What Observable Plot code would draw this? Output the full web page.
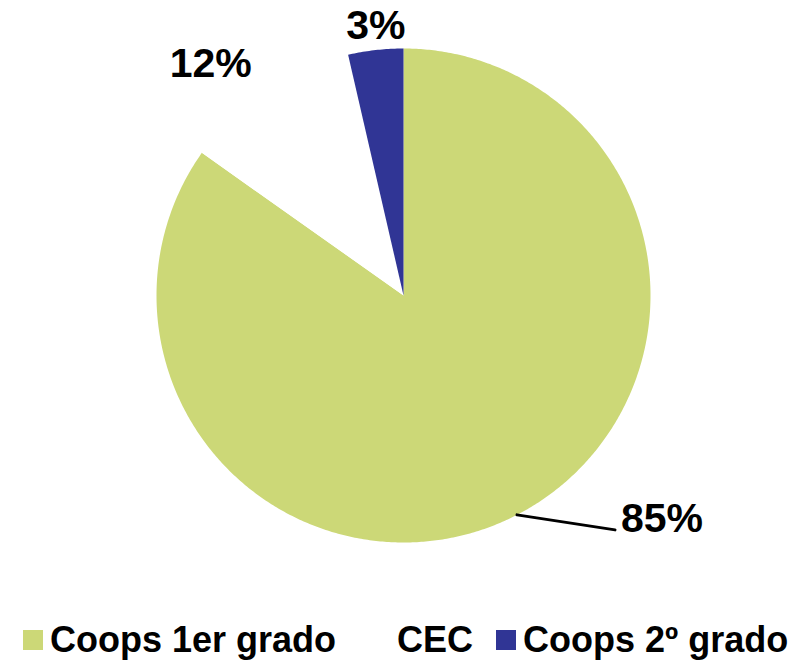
<!DOCTYPE html>
<html><head><meta charset="utf-8">
<script src="https://cdn.jsdelivr.net/npm/d3@7"></script>
<script src="https://cdn.jsdelivr.net/npm/@observablehq/plot@0.6"></script>
<style>
body{margin:0;background:#fff;font-family:"Liberation Sans",Arial,sans-serif;width:809px;height:662px;overflow:hidden}
#legend{display:flex;align-items:center;height:44px;padding-top:18px;padding-left:23px;font-weight:bold;font-size:36px;color:#000;white-space:nowrap}
.item{display:flex;align-items:center}
.sw{width:20px;height:20px;margin-right:7px;flex:none}
</style>
</head><body>
<div id="chart"></div>
<div id="legend"></div>
<script>
const categories = ["Coops 1er grado", "CEC", "Coops 2º grado"];
const values = [84.8, 11.6, 3.6];
const labels = ["85%", "12%", "3%"];
const colors = ["#ccd877", "#ffffff", "#303595"];

// layout
const W = 809, H = 600, CX = 403, CY = 295, R = 247;
const labelPlace = [
  {r: 1.0, leader: [98, 15], dx: 6, dy: 2, anchor: "start", lineAnchor: "bottom"},
  {r: 1.22, dx: -25, dy: 19, anchor: "middle", lineAnchor: "middle"},
  {r: 1.10, dx: 3, dy: 0, anchor: "middle", lineAnchor: "middle"}
];

const arcs = d3.pie().sort(null).value(d => d)(values);
const pt = (a, r) => ({x: r * Math.sin(a), y: r * Math.cos(a)});

const marks = [];
arcs.forEach((arc, i) => {
  const pts = [{x: 0, y: 0}];
  const n = Math.max(2, Math.ceil((arc.endAngle - arc.startAngle) / (Math.PI / 360)));
  for (let k = 0; k <= n; k++) pts.push(pt(arc.startAngle + (arc.endAngle - arc.startAngle) * k / n, 1));
  pts.push({x: 0, y: 0});
  marks.push(Plot.line(pts, {x: "x", y: "y", fill: colors[i], stroke: "none", curve: "linear"}));
});

const labelData = [];
const leaderData = [];
arcs.forEach((arc, i) => {
  const mid = (arc.startAngle + arc.endAngle) / 2;
  const p = labelPlace[i];
  const base = pt(mid, p.r);
  if (p.leader) {
    const end = {x: base.x + p.leader[0] / R, y: base.y - p.leader[1] / R};
    leaderData.push({id: i, ...base}, {id: i, ...end});
    labelData.push({text: labels[i], ...end, ...p});
  } else {
    labelData.push({text: labels[i], ...base, ...p});
  }
});

marks.push(Plot.line(leaderData, {x: "x", y: "y", z: "id", stroke: "#000", strokeWidth: 3}));
for (const l of labelData) {
  marks.push(Plot.text([l], {x: "x", y: "y", text: "text", dx: l.dx, dy: l.dy, textAnchor: l.anchor, lineAnchor: l.lineAnchor,
    fontSize: 41, fontWeight: "bold", fontFamily: "Liberation Sans, Arial, sans-serif", fill: "#000"}));
}

const chart = Plot.plot({
  width: W, height: H, margin: 0,
  x: {domain: [-CX / R, (W - CX) / R], axis: null},
  y: {domain: [-(H - CY) / R, CY / R], axis: null},
  marks
});
document.getElementById("chart").appendChild(chart);

const legend = document.getElementById("legend");
const gaps = [34, 23, 0];
categories.forEach((c, i) => {
  const it = document.createElement("div");
  it.className = "item";
  it.style.marginRight = gaps[i] + "px";
  const sw = document.createElement("div");
  sw.className = "sw";
  sw.style.background = colors[i];
  const t = document.createElement("span");
  t.textContent = c;
  it.appendChild(sw); it.appendChild(t);
  legend.appendChild(it);
});
</script>
</body></html>
